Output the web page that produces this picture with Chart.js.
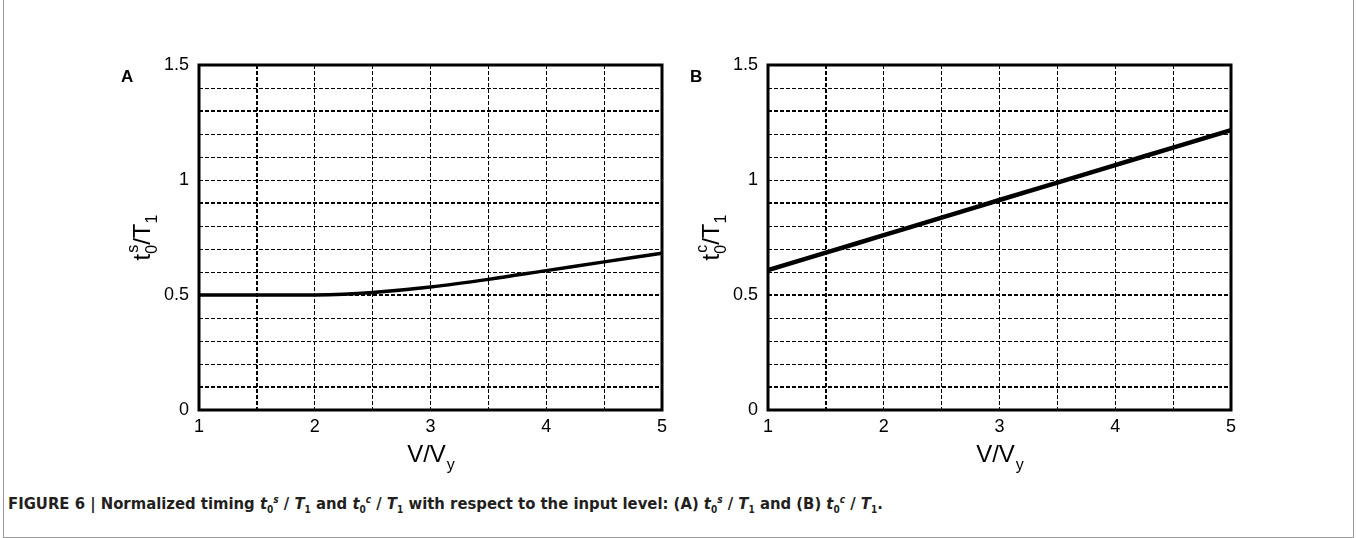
<!DOCTYPE html>
<html>
<head>
<meta charset="utf-8">
<script src="https://cdn.jsdelivr.net/npm/chart.js@4.4.1/dist/chart.umd.min.js"></script>
<style>
  body { margin: 0; background: #fff; width: 1356px; height: 538px; overflow: hidden; position: relative; }
  #frame { position: absolute; left: 3px; top: -1px; width: 1349px; height: 537px; border: 1px solid #9a9a9a; }
  .panel { position: absolute; top: 0; width: 690px; height: 480px; }
  #panelA { left: 0; }
  #panelB { left: 569px; }
  #caption {
    position: absolute; left: 8px; top: 494px; white-space: nowrap;
    font-family: "Liberation Sans Narrow", "DejaVu Sans Condensed", sans-serif;
    font-weight: bold; font-size: 16.5px; color: #231f20;
  }
  #caption sub, #caption sup { font-size: 10px; line-height: 0; }
</style>
</head>
<body>
<div id="frame"></div>
<div class="panel" id="panelA"><canvas id="chartA"></canvas></div>
<div class="panel" id="panelB"><canvas id="chartB"></canvas></div>
<div id="caption">FIGURE 6 | Normalized timing <i>t</i><sub>0</sub><sup><i>s</i></sup> / <i>T</i><sub>1</sub> and <i>t</i><sub>0</sub><sup><i>c</i></sup> / <i>T</i><sub>1</sub> with respect to the input level: (A) <i>t</i><sub>0</sub><sup><i>s</i></sup> / <i>T</i><sub>1</sub> and (B) <i>t</i><sub>0</sub><sup><i>c</i></sup> / <i>T</i><sub>1</sub>.</div>
<script>
// V/Vy values and normalized timings
var vRatioA = [1, 1.5, 2, 2.25, 2.5, 3, 3.5, 4, 4.5, 5];
var tsOverT1 = [0.5, 0.5, 0.5, 0.503, 0.511, 0.535, 0.568, 0.606, 0.644, 0.682];
var vRatioB = [1, 1.5, 2, 2.5, 3, 3.5, 4, 4.5, 5];
var tcOverT1 = [0.608, 0.684, 0.76, 0.836, 0.913, 0.989, 1.065, 1.141, 1.217];
var xTickLabels = ["1", "2", "3", "4", "5"];
var yTickLabels = ["0", "0.5", "1", "1.5"];

var BIG = "24px 'Liberation Sans'";
var SMALL = "16px 'Liberation Sans'";

function drawXTitle(ctx, area) {
  ctx.font = BIG;
  var w1 = ctx.measureText("V/V").width;
  ctx.font = SMALL;
  var w2 = ctx.measureText("y").width;
  var x = (area.left + area.right) / 2 - (w1 + w2) / 2;
  ctx.font = BIG;
  ctx.fillText("V/V", x, 462);
  ctx.font = SMALL;
  ctx.fillText("y", x + w1 + 1, 470);
}

function drawYTitle(ctx, area, sup) {
  ctx.save();
  ctx.translate(150, (area.top + area.bottom) / 2);
  ctx.rotate(-Math.PI / 2);
  ctx.font = BIG;
  var wt = ctx.measureText("t").width;
  var wT = ctx.measureText("/T").width;
  ctx.font = SMALL;
  var w0 = Math.max(ctx.measureText("0").width, ctx.measureText(sup).width);
  var w1 = ctx.measureText("1").width;
  var x = -(wt + w0 + wT + w1) / 2;
  ctx.font = BIG;
  ctx.fillText("t", x, 0);
  x += wt;
  ctx.font = SMALL;
  ctx.fillText("0", x, 7);
  ctx.fillText(sup, x + 1, -12);
  x += w0;
  ctx.font = BIG;
  ctx.fillText("/T", x, 0);
  x += wT;
  ctx.font = SMALL;
  ctx.fillText("1", x, 7);
  ctx.restore();
}

function makeDecor(letter, sup) {
  return {
    id: "decor" + letter,
    afterDraw: function (chart) {
      var ctx = chart.ctx;
      var area = chart.chartArea;
      ctx.save();
      ctx.fillStyle = "#000";
      ctx.strokeStyle = "#000";
      ctx.lineWidth = 3;
      ctx.setLineDash([]);
      ctx.strokeRect(area.left, area.top, area.right - area.left, area.bottom - area.top);
      ctx.textBaseline = "alphabetic";
      drawXTitle(ctx, area);
      drawYTitle(ctx, area, sup);
      ctx.font = "bold 17px 'Liberation Sans'";
      ctx.fillText(letter, 121, 82);
      ctx.restore();
    },
  };
}

function makeConfig(xs, ys, width, letter, sup) {
  var points = xs.map(function (x, i) {
    return { x: x, y: ys[i] };
  });
  return {
    type: "line",
    data: {
      datasets: [
        {
          data: points,
          borderColor: "#000",
          borderWidth: width,
          pointRadius: 0,
          cubicInterpolationMode: "monotone",
          fill: false,
        },
      ],
    },
    options: {
      responsive: true,
      maintainAspectRatio: false,
      animation: false,
      layout: { padding: { top: 65, right: 28, left: 0, bottom: 0 } },
      plugins: { legend: { display: false }, tooltip: { enabled: false } },
      scales: {
        x: {
          type: "linear",
          min: 1,
          max: 5,
          afterFit: function (s) {
            s.height = 70;
            s.paddingLeft = 0;
            s.paddingRight = 0;
          },
          ticks: {
            stepSize: 0.5,
            autoSkip: false,
            maxRotation: 0,
            padding: 6,
            color: "#000",
            font: { family: "Liberation Sans", size: 18 },
            callback: function (v) {
              var s = String(v);
              return xTickLabels.indexOf(s) >= 0 ? s : "";
            },
          },
          grid: {
            color: "#000",
            drawTicks: false,
            lineWidth: function (c) {
              return c.tick && Math.abs(c.tick.value - 1.5) < 1e-6 ? 2 : 1;
            },
          },
          border: { display: false, dash: [4, 2] },
        },
        y: {
          min: 0,
          max: 1.5,
          afterFit: function (s) {
            s.width = 199;
            s.paddingTop = 0;
            s.paddingBottom = 0;
          },
          ticks: {
            stepSize: 0.1,
            autoSkip: false,
            padding: 10,
            color: "#000",
            font: { family: "Liberation Sans", size: 18 },
            callback: function (v) {
              var s = String(Math.round(v * 10) / 10);
              return yTickLabels.indexOf(s) >= 0 ? s : "";
            },
          },
          grid: {
            color: "#000",
            drawTicks: false,
            lineWidth: function (c) {
              return c.tick && Math.round(c.tick.value * 10) % 4 === 1 ? 2 : 1;
            },
          },
          border: { display: false, dash: [4, 2] },
        },
      },
    },
    plugins: [makeDecor(letter, sup)],
  };
}

var chartA = new Chart(document.getElementById("chartA"), makeConfig(vRatioA, tsOverT1, 3.5, "A", "s"));
var chartB = new Chart(document.getElementById("chartB"), makeConfig(vRatioB, tcOverT1, 4.5, "B", "c"));
</script>
</body>
</html>
